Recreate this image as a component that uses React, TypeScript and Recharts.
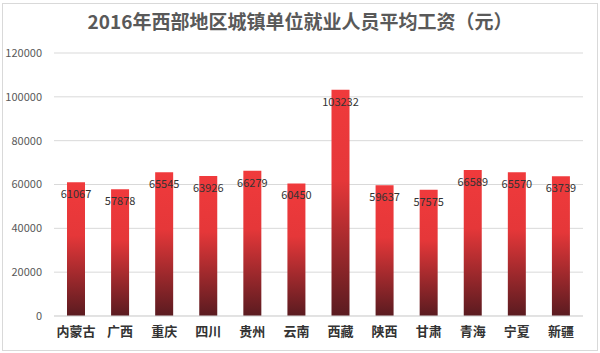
import { BarChart, Bar, XAxis, YAxis, CartesianGrid, LabelList } from "recharts";

const regions = ["内蒙古", "广西", "重庆", "四川", "贵州", "云南", "西藏", "陕西", "甘肃", "青海", "宁夏", "新疆"];
const wages = [61067, 57878, 65545, 63926, 66279, 60450, 103232, 59637, 57575, 66589, 65570, 63739];
const yTicks = [0, 20000, 40000, 60000, 80000, 100000, 120000];

const data = regions.map((name, i) => ({ name, value: wages[i] }));

const font = '"Noto Sans CJK SC", "Noto Sans", sans-serif';

export default function App() {
  return (
    <div
      style={{
        position: "absolute",
        left: 0,
        top: 0,
        width: 600,
        height: 353,
        background: "#fff",
        fontFamily: font,
      }}
    >
      <div
        style={{
          position: "absolute",
          left: 2,
          top: 3,
          width: 594,
          height: 346,
          border: "1px solid #d9d9d9",
        }}
      />
      <div
        style={{
          position: "absolute",
          top: 7,
          width: 600,
          textAlign: "center",
          fontSize: 19,
          fontWeight: "bold",
          color: "#595959",
        }}
      >
        2016年西部地区城镇单位就业人员平均工资（元）
      </div>
      <BarChart
        width={600}
        height={353}
        data={data}
        margin={{ top: 53, right: 17, left: 0, bottom: 0 }}
        style={{ position: "absolute", left: 0, top: 0 }}
      >
        <defs>
          <linearGradient id="barFill" x1="0" y1="0" x2="0" y2="1">
            <stop offset="0%" stopColor="#f03a3c" />
            <stop offset="40%" stopColor="#e53739" />
            <stop offset="100%" stopColor="#5a1b20" />
          </linearGradient>
        </defs>
        <CartesianGrid vertical={false} stroke="#d9d9d9" />
        <XAxis
          dataKey="name"
          height={37}
          axisLine={{ stroke: "#d9d9d9" }}
          tickLine={false}
          interval={0}
          tick={{ fill: "#333", fontSize: 13, fontWeight: "bold", fontFamily: font }}
          tickMargin={5}
        />
        <YAxis
          width={54}
          domain={[0, 120000]}
          ticks={yTicks}
          axisLine={false}
          tickLine={false}
          tick={{ fill: "#595959", fontSize: 11, fontFamily: font }}
          tickMargin={6}
        />
        <Bar dataKey="value" fill="url(#barFill)" barSize={18} isAnimationActive={false}>
          <LabelList
            dataKey="value"
            position="insideTop"
            offset={8}
            fill="#333"
            fontSize={11}
            fontFamily={font}
          />
        </Bar>
      </BarChart>
    </div>
  );
}
